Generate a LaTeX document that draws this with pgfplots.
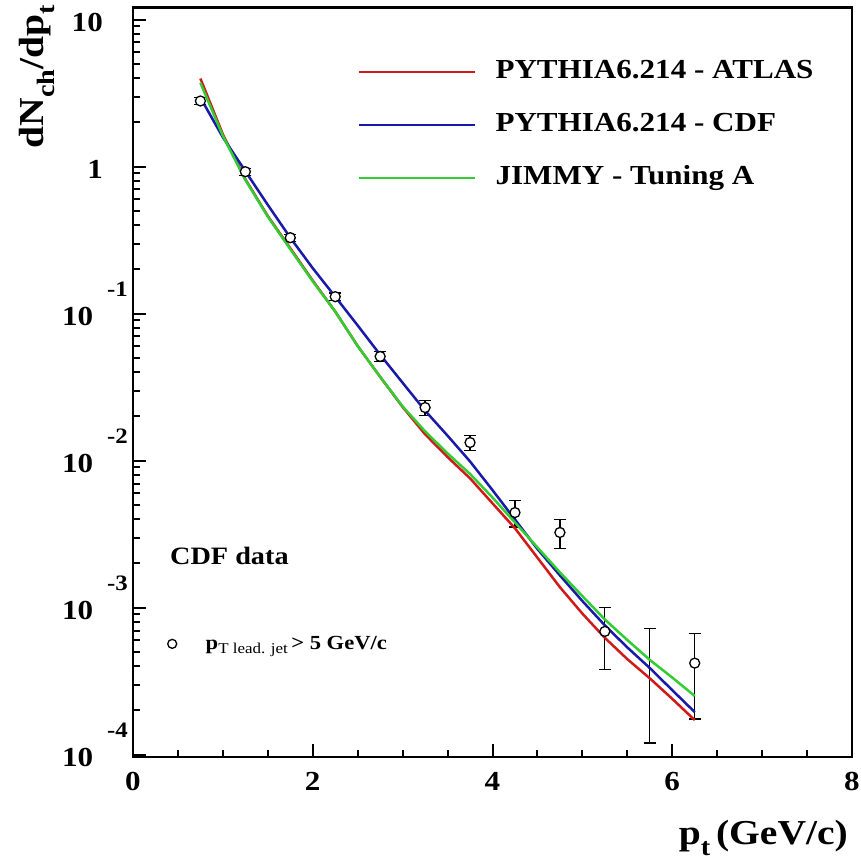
\documentclass[border=0pt]{standalone}
\usepackage{fontspec}
\setmainfont{Liberation Serif}[FakeStretch=1.13]
\usepackage{pgfplots}
\pgfplotsset{compat=1.18}
\definecolor{cred}{RGB}{210,25,25}
\definecolor{cblue}{RGB}{25,25,170}
\definecolor{cgreen}{RGB}{50,205,50}
\newcommand{\ex}[1]{\textbf{10}\hspace{14pt}\raisebox{29pt}[0pt][0pt]{\fontsize{22}{22}\selectfont\textbf{-#1}}}
\newcommand{\lsub}[1]{\raisebox{-11pt}{\fontsize{25}{25}\selectfont\bfseries #1}}
\begin{document}
\begin{tikzpicture}
\useasboundingbox (0,0) rectangle (861pt,859pt);
\begin{axis}[
  at={(133pt,102pt)}, anchor=south west,
  scale only axis, width=719pt, height=749.3pt,
  ymode=log, xmin=0, xmax=8, ymin=9.65e-5, ymax=12.07,
  axis line style={line width=2.5pt},
  tick style={line width=2pt, black},
  tick align=inside, xtick pos=bottom, ytick pos=left,
  major tick length=13pt, minor tick length=7pt,
  xtick={0,2,4,6,8}, xticklabels={0,2,4,6,8}, minor x tick num=3,
  ytick={1e-4,1e-3,1e-2,1e-1,1,10},
  yticklabels={\ex{4},\ex{3},\ex{2},\ex{1},\textbf{1}\hspace*{25pt},\textbf{10}\hspace*{25pt}},
  minor ytick={2e-4,3e-4,4e-4,5e-4,6e-4,7e-4,8e-4,9e-4,2e-3,3e-3,4e-3,5e-3,6e-3,7e-3,8e-3,9e-3,2e-2,3e-2,4e-2,5e-2,6e-2,7e-2,8e-2,9e-2,0.2,0.3,0.4,0.5,0.6,0.7,0.8,0.9,2,3,4,5,6,7,8,9},
  x tick label style={anchor=north, inner sep=0pt, yshift=-15pt, font=\fontsize{27.5}{30}\selectfont\bfseries},
  y tick label style={anchor=east, inner sep=0pt, xshift=-5pt, yshift=-2.5pt, font=\fontsize{27.5}{30}\selectfont\bfseries},
  legend style={at={(0.313,0.931)}, anchor=north west, draw=none, fill=none, inner sep=0pt, outer sep=0pt, row sep=28pt, column sep=19pt, font=\fontsize{27.5}{30}\selectfont\bfseries, nodes={inner sep=0pt, text height=19pt, text depth=6pt}},
  legend cell align=left,
  legend image code/.code={\draw[#1, line width=2.5pt] (0pt,0pt) -- (116pt,0pt);},
]
% CDF data
\addplot[forget plot, only marks, mark=*, mark size=5pt, mark options={fill=white, draw=black, line width=1.3pt},
  error bars/.cd, y dir=both, y explicit,
  error bar style={line width=1.3pt, draw=black},
  error mark options={rotate=90, mark size=6pt, line width=1.3pt, draw=black}]
  table[x=x, y=y, y error=e] {
x y e
0.75 2.80 0.15
1.25 0.925 0.05
1.75 0.329 0.018
2.25 0.1306 0.008
2.75 0.0512 0.004
3.25 0.0230 0.0026
3.75 0.0133 0.0016
4.25 0.00444 0.0009
4.75 0.00325 0.00072
5.25 0.00069 0.00031
6.25 0.00042 0.000245
};
\addplot[forget plot, draw=none, mark=none,
  error bars/.cd, y dir=both, y explicit,
  error bar style={line width=1.3pt, draw=black},
  error mark options={rotate=90, mark size=6pt, line width=1.3pt, draw=black}]
  table[x=x, y=y, y error=e] {
x y e
5.75 0.00042 0.0003
};
% PYTHIA6.214 - ATLAS
\addplot[cred, line width=2.5pt] table {
0.75 3.98
1.0 1.66
1.25 0.822
1.5 0.462
1.75 0.279
2.0 0.168
2.25 0.1035
2.5 0.0603
2.75 0.0372
3.0 0.0232
3.25 0.01514
3.5 0.01059
3.75 0.00759
4.0 0.00513
4.25 0.00347
4.5 0.00219
4.75 0.00138
5.0 0.000912
5.25 0.000624
5.5 0.000447
5.75 0.000331
6.0 0.000240
6.25 0.000172
};
\addlegendentry{PYTHIA6.214 - ATLAS}
% PYTHIA6.214 - CDF
\addplot[cblue, line width=2.5pt] table {
0.75 2.95
1.0 1.585
1.25 0.933
1.5 0.550
1.75 0.329
2.0 0.204
2.25 0.1306
2.5 0.0832
2.75 0.0526
3.0 0.0339
3.25 0.0219
3.5 0.0148
3.75 0.00989
4.0 0.00631
4.25 0.00398
4.5 0.00251
4.75 0.00166
5.0 0.00111
5.25 0.000759
5.5 0.000537
5.75 0.000389
6.0 0.000275
6.25 0.000195
};
\addlegendentry{PYTHIA6.214 - CDF}
% JIMMY - Tuning A
\addplot[cgreen, line width=2.5pt] table {
0.75 3.72
1.0 1.62
1.25 0.813
1.5 0.457
1.75 0.275
2.0 0.166
2.25 0.1035
2.5 0.0603
2.75 0.0372
3.0 0.0234
3.25 0.01585
3.5 0.01122
3.75 0.00813
4.0 0.00562
4.25 0.00380
4.5 0.00257
4.75 0.00174
5.0 0.00120
5.25 0.000832
5.5 0.000603
5.75 0.000442
6.0 0.000335
6.25 0.000251
};
\addlegendentry{JIMMY - Tuning A}
\end{axis}
\begin{axis}[
  at={(133pt,102pt)}, anchor=south west,
  scale only axis, width=719pt, height=749.3pt,
  hide axis, xmin=0, xmax=1, ymin=0, ymax=1,
  legend style={at={(0.048,0.151)}, anchor=west, draw=none, fill=none, inner sep=0pt, column sep=29pt, font=\fontsize{20}{23}\selectfont, nodes={inner sep=0pt}},
]
\addlegendimage{only marks, mark=*, mark size=4.5pt, mark options={fill=white, draw=black, line width=1.3pt}}
\addlegendentry{\textbf{p}\raisebox{-4pt}{\fontsize{15}{15}\selectfont T lead. jet}\,\textbf{> 5 GeV/c}}
\end{axis}
\node[anchor=base west, inner sep=0pt] at (170pt,294pt) {\fontsize{25}{28}\selectfont\bfseries CDF data};
\node[rotate=90, anchor=base east, inner sep=0pt] at (43pt,854pt) {\fontsize{35}{40}\selectfont\bfseries dN\lsub{ch}/dp\lsub{t}};
\node[anchor=base east, inner sep=0pt] at (848pt,15pt) {\fontsize{35}{40}\selectfont\bfseries p\lsub{t}\,(GeV/c)};
\end{tikzpicture}
\end{document}
